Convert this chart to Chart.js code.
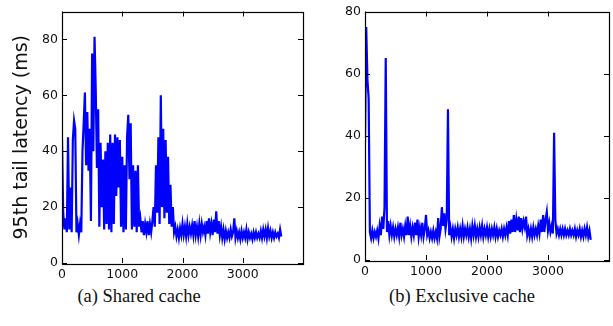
<!DOCTYPE html>
<html>
<head>
<meta charset="utf-8">
<script src="https://cdn.jsdelivr.net/npm/chart.js@4.4.1/dist/chart.umd.min.js"></script>
<style>
  html, body { margin: 0; padding: 0; background: #fff; }
  #wrap { position: relative; width: 613px; height: 326px; overflow: hidden; }
  canvas { position: absolute; top: 0; }
  #shared { left: 0; }
  #exclusive { left: 312px; }
  .cap {
    position: absolute; top: 286px;
    font-family: 'Liberation Serif', 'Times New Roman', serif;
    font-size: 18.5px; color: #111; white-space: nowrap;
    transform: translateX(-50%);
  }
</style>
</head>
<body>
<div id="wrap">
  <canvas id="shared" width="312" height="282"></canvas>
  <canvas id="exclusive" width="301" height="282"></canvas>
  <div class="cap" style="left:139px">(a) Shared cache</div>
  <div class="cap" style="left:462px">(b) Exclusive cache</div>
</div>
<script>
// one sample every 20 s
const sampleStep = 20;

const sharedLatency = [
  44, 18, 12, 16, 11, 45, 12, 27, 11, 44, 51, 48, 11, 14, 10, 14, 11, 40, 50, 61,
  35, 54, 33, 48, 15, 75, 40, 81, 62, 34, 55, 13, 43, 20, 37, 12, 40, 14, 43, 12,
  46, 11, 43, 14, 46, 24, 45, 27, 44, 13, 38, 11, 35, 12, 45, 53, 30, 50, 12, 35,
  13, 33, 11, 35, 13, 16, 11, 15, 10, 14, 11, 15, 10, 14, 11, 15, 20, 13, 35, 18,
  45, 14, 60, 20, 48, 16, 44, 18, 38, 14, 28, 13, 20, 11, 13, 9.5, 12, 9, 12.5, 10,
  14, 10, 13, 9.5, 14, 10, 13, 10.5, 13.5, 10, 15, 10, 13, 9.5, 14, 10, 14, 11, 13, 10,
  15, 10.5, 16, 11, 14, 10, 15.5, 11, 18.5, 10.5, 15, 10, 13, 9, 12, 8.5, 11.5, 9, 11, 9,
  12, 9.5, 11, 16, 9, 11.5, 9, 11, 8.5, 11.5, 9, 11, 9, 12, 8.5, 11, 9, 10.5, 8.5, 11,
  9, 11, 9, 10.5, 9, 11.5, 9, 12, 9.5, 12, 9, 12.5, 9.5, 11.5, 9, 11, 9, 11, 9.5, 10.5,
  9, 12, 9.5
];

const exclusiveLatency = [
  38, 75, 58, 52, 9, 7, 9.5, 7, 9, 7.5, 9.5, 7, 11, 8, 14, 10, 17, 65, 9, 12.5,
  8, 11, 8, 10.5, 7.5, 10, 8, 10.5, 7.5, 12, 8, 10, 7.5, 11, 8, 14, 8, 11, 7.5, 10.5,
  8, 12, 8, 13, 7.5, 10.5, 8, 12, 7.5, 10, 14.5, 8, 9.5, 7, 9, 7, 9.5, 7, 9, 7,
  13.5, 7.5, 10, 17, 11, 15, 10, 13, 48.5, 8, 10.5, 7.5, 10, 7, 10, 8, 10.5, 7.5, 10, 7.5,
  11, 7.5, 10, 8, 10.5, 7.5, 10, 7, 11, 8, 11, 7.5, 10, 7.5, 10.5, 8, 11, 7.5, 10, 8,
  10.5, 7.5, 10, 7.5, 10, 8, 10.5, 7.5, 10, 7.5, 9.5, 8, 10, 7.5, 10, 8, 10.5, 8, 12.5, 8.5,
  13, 9, 14.5, 9, 13, 9.5, 14, 9, 13.5, 10, 12.5, 10.5, 14, 8, 10, 7.5, 10, 7.5, 10.5, 8,
  10, 8, 11, 8.5, 13, 9, 14.5, 9, 13, 15.5, 9.5, 12, 9, 11, 8.5, 41, 13, 8.5, 10, 8,
  10, 8, 10, 8, 10, 8, 9.5, 8, 10, 8, 9.5, 8, 10, 7.5, 9.5, 8, 10, 7.5, 9.5, 7.5,
  10, 8, 10.5, 7.5, 9.5, 6.5
];

const xTickValues = [0, 1000, 2000, 3000];
const sharedYTicks = [0, 20, 40, 60, 80];
const exclusiveYTicks = [0, 20, 40, 60, 80];

const tickFont = { family: 'DejaVu Sans', size: 12.5 };
const lineBlue = '#0000ff';

// matplotlib-like box with inward ticks on all four sides
const frameTicks = {
  id: 'frameTicks',
  afterDraw(chart) {
    const { ctx, chartArea: a, scales } = chart;
    const len = 5;
    ctx.save();
    ctx.strokeStyle = '#000';
    ctx.lineWidth = 1;
    ctx.beginPath();
    scales.x.ticks.forEach(t => {
      const px = Math.round(scales.x.getPixelForValue(t.value)) + 0.5;
      ctx.moveTo(px, a.bottom); ctx.lineTo(px, a.bottom - len);
      ctx.moveTo(px, a.top); ctx.lineTo(px, a.top + len);
    });
    scales.y.ticks.forEach(t => {
      const py = Math.round(scales.y.getPixelForValue(t.value)) + 0.5;
      ctx.moveTo(a.left, py); ctx.lineTo(a.left + len, py);
      ctx.moveTo(a.right, py); ctx.lineTo(a.right - len, py);
    });
    ctx.stroke();
    ctx.lineWidth = 1.2;
    ctx.strokeRect(Math.round(a.left) + 0.5, Math.round(a.top) + 0.5,
      Math.round(a.right - a.left), Math.round(a.bottom - a.top));
    ctx.restore();
  }
};

function makeChart(id, values, yMax, yTicks, opts) {
  const pts = values.map((v, i) => ({ x: i * sampleStep, y: v }));
  return new Chart(document.getElementById(id), {
    type: 'line',
    data: {
      datasets: [{
        data: pts,
        borderColor: lineBlue,
        borderWidth: 2.2,
        pointRadius: 0,
        tension: 0,
        fill: false
      }]
    },
    options: {
      responsive: false,
      animation: false,
      devicePixelRatio: 1,
      layout: { padding: opts.padding },
      plugins: { legend: { display: false }, tooltip: { enabled: false } },
      scales: {
        x: {
          type: 'linear',
          min: 0, max: 4000,
          afterBuildTicks: s => { s.ticks = xTickValues.map(v => ({ value: v })); },
          afterFit: s => { s.height = opts.xHeight; },
          grid: { display: false, drawTicks: false },
          border: { display: false },
          ticks: { font: tickFont, color: '#111', padding: 4, maxRotation: 0,
                   callback: v => String(v) }
        },
        y: {
          min: 0, max: yMax,
          afterBuildTicks: s => { s.ticks = yTicks.map(v => ({ value: v })); },
          afterFit: s => { s.width = opts.yWidth; },
          grid: { display: false, drawTicks: false },
          border: { display: false },
          ticks: { font: tickFont, color: '#111', padding: 4,
                   callback: v => String(v) },
          title: opts.yTitle ? {
            display: true,
            text: opts.yTitle,
            font: { family: 'DejaVu Sans', size: 19 },
            color: '#111',
            padding: { top: 11, bottom: 0 }
          } : { display: false }
        }
      }
    },
    plugins: [frameTicks]
  });
}

makeChart('shared', sharedLatency, 90, sharedYTicks, {
  padding: { top: 7, right: 9, left: 0, bottom: 0 },
  xHeight: 19, yWidth: 62,
  yTitle: '95th tail latency (ms)'
});

makeChart('exclusive', exclusiveLatency, 80, exclusiveYTicks, {
  padding: { top: 8, right: 4, left: 0, bottom: 0 },
  xHeight: 22, yWidth: 53
});
</script>
</body>
</html>
